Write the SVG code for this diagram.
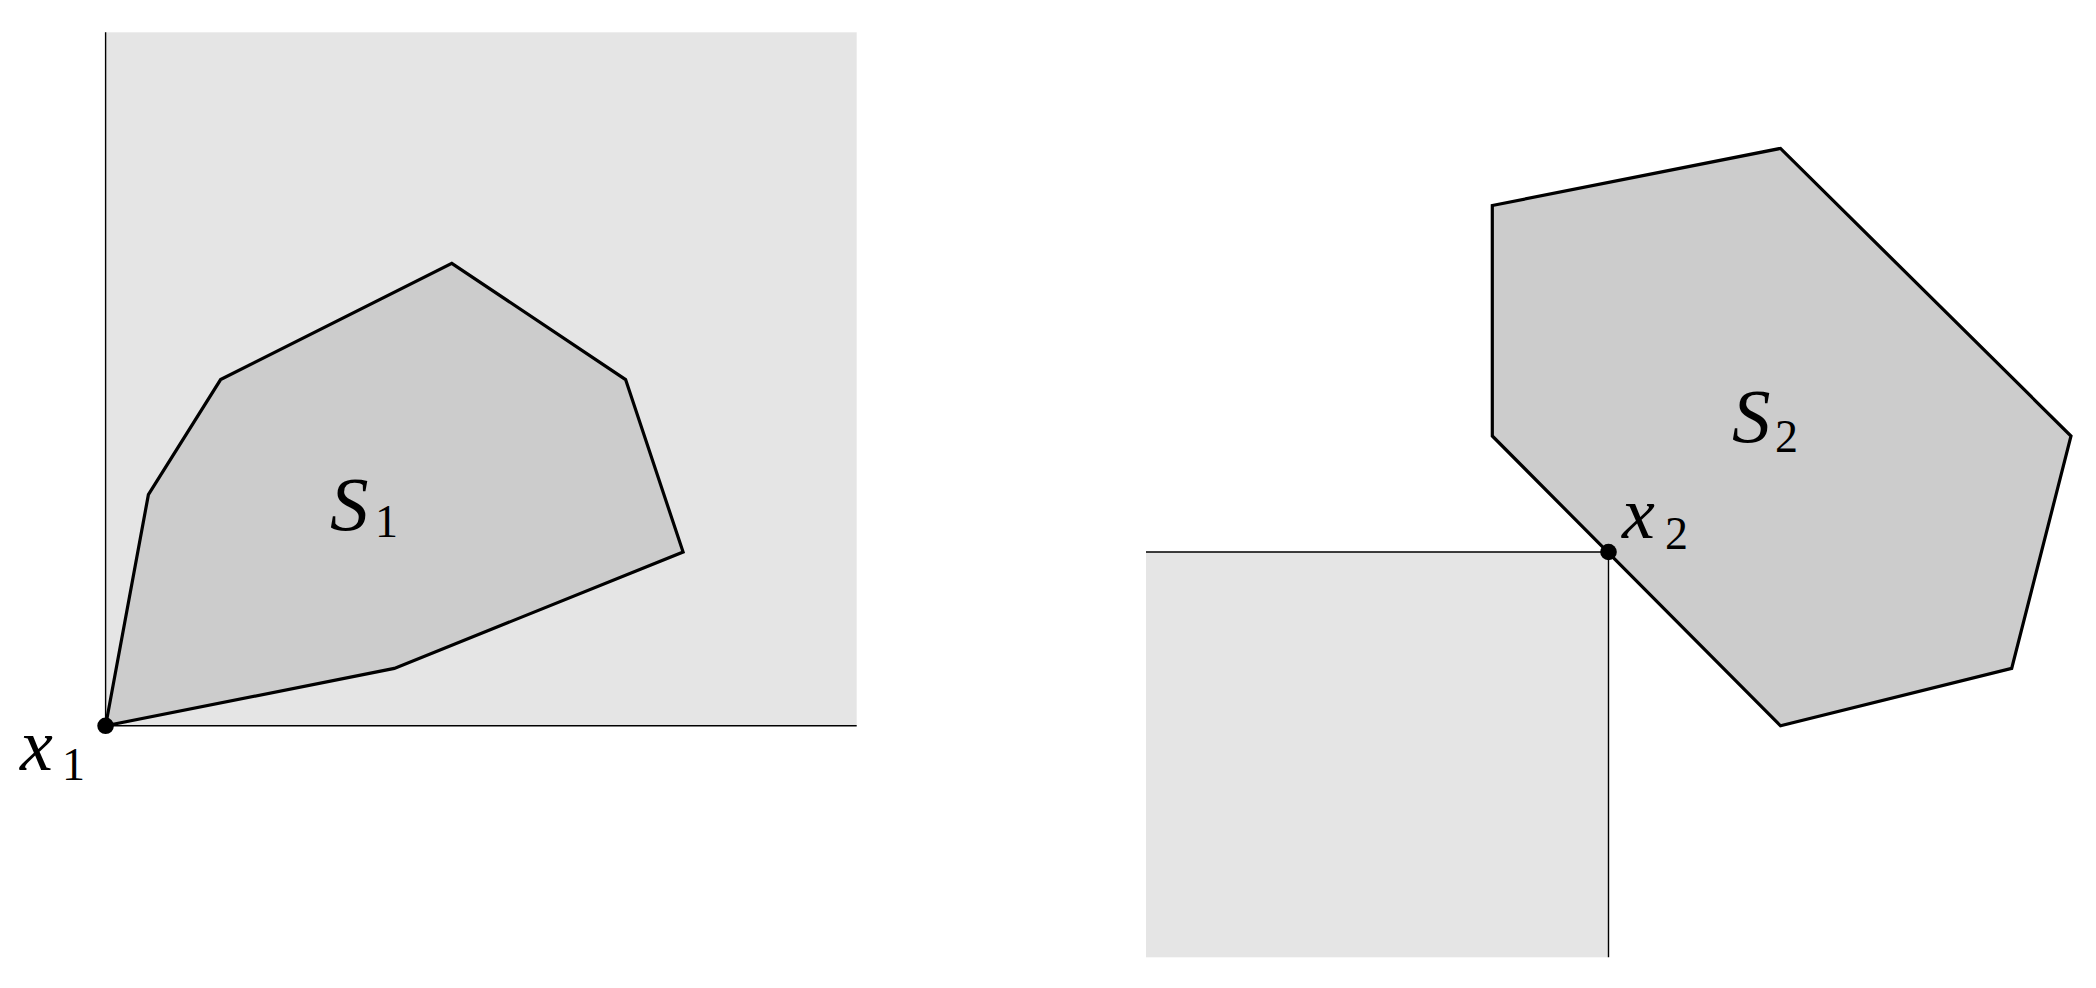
<svg xmlns="http://www.w3.org/2000/svg" width="2096" height="988" viewBox="0 0 2096 988">
<style>
.bg{fill:#e5e5e5;stroke:none}
.ax{fill:none;stroke:#000;stroke-width:1.4}
.poly{fill:#cccccc;stroke:#000;stroke-width:3.2;stroke-linejoin:miter}
.dot{fill:#000}
text{fill:#000;font-family:"Liberation Serif","Times New Roman",serif}
.it{font-style:italic}
</style>
<rect width="2096" height="988" fill="#fff"/>
<g id="left">
  <rect class="bg" x="105.6" y="32.3" width="751.1" height="693.5"/>
  <polyline class="ax" points="105.6,32.3 105.6,725.8 856.7,725.8"/>
  <g id="S1">
    <polygon class="poly" points="105.6,725.8 148.4,494.6 220.6,379.6 451.8,263.3 625.6,379.6 683.1,552.1 394.3,668.4"/>
    <text class="it" x="330" y="530" font-size="77">S</text>
    <text x="375" y="537" font-size="46">1</text>
  </g>
  <g id="x1">
    <circle class="dot" cx="105.6" cy="725.8" r="8.3"/>
    <text class="it" x="20" y="770" font-size="74">x</text>
    <text x="62" y="780" font-size="46">1</text>
  </g>
</g>
<g id="right">
  <rect class="bg" x="1146" y="552" width="462" height="405.3"/>
  <polyline class="ax" points="1146,552 1608.5,552 1608.5,957.3"/>
  <g id="S2">
    <polygon class="poly" points="1492.3,205.5 1780.5,148.4 2071,436 2011.7,668.4 1780.5,725.8 1492.3,436"/>
    <text class="it" x="1732" y="442" font-size="77">S</text>
    <text x="1775" y="452" font-size="46">2</text>
  </g>
  <g id="x2">
    <circle class="dot" cx="1608.5" cy="552" r="8.3"/>
    <text class="it" x="1622" y="538" font-size="74">x</text>
    <text x="1665" y="549" font-size="46">2</text>
  </g>
</g>
</svg>
